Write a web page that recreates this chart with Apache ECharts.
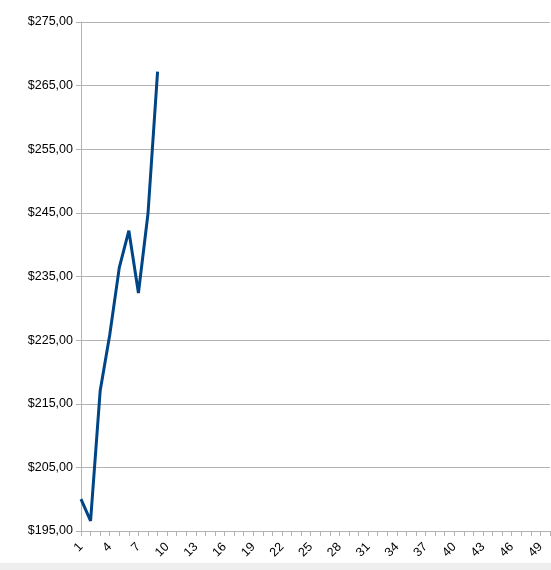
<!DOCTYPE html>
<html><head><meta charset="utf-8">
<script src="https://cdn.jsdelivr.net/npm/echarts@6/dist/echarts.min.js"></script>
<style>html,body{margin:0;padding:0;background:#fff}#c{width:551px;height:570px}</style>
</head><body><div id="c"></div>
<script>
var categories = [];
for (var i = 1; i <= 50; i++) categories.push(String(i));
var values = [200.0, 196.6, 217.0, 225.8, 236.4, 242.2, 232.4, 244.9, 267.2];
var yMin = 195, yMax = 275, yStep = 10;

var chart = echarts.init(document.getElementById('c'), null, {renderer: 'canvas'});
chart.setOption({
  animation: false,
  backgroundColor: '#ffffff',
  grid: {left: 81, right: 1, top: 22, bottom: 39, containLabel: false},
  xAxis: {
    type: 'category', data: categories, boundaryGap: false,
    axisLine: {lineStyle: {color: '#b3b3b3', width: 1}},
    axisTick: {show: true, interval: 0, length: 5, lineStyle: {color: '#b3b3b3'}},
    axisLabel: {interval: 2, rotate: 45, color: '#000', fontFamily: 'Liberation Sans', fontSize: 12.5, margin: 14},
    splitLine: {show: false}
  },
  yAxis: {
    type: 'value', min: yMin, max: yMax, interval: yStep,
    axisLine: {show: true, lineStyle: {color: '#b3b3b3', width: 1}},
    axisTick: {show: true, length: 5, lineStyle: {color: '#b3b3b3'}},
    axisLabel: {color: '#000', fontFamily: 'Liberation Sans', fontSize: 12.5, margin: 8,
      formatter: function(v){ return '$' + v.toFixed(2).replace('.', ','); }},
    splitLine: {show: true, lineStyle: {color: '#b3b3b3', width: 1}}
  },
  series: [{
    type: 'line', data: values, symbol: 'none',
    lineStyle: {color: '#004586', width: 3}, itemStyle: {color: '#004586'}
  }],
  graphic: [{type: 'rect', left: 0, top: 563, shape: {width: 551, height: 7}, style: {fill: '#eeeeee'}, z: -1}]
});
</script></body></html>
